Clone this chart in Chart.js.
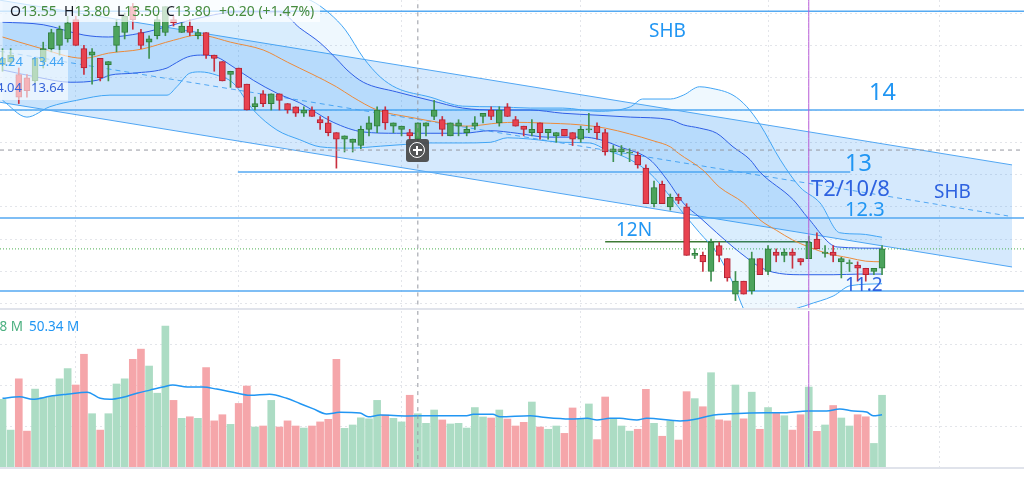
<!DOCTYPE html>
<html>
<head>
<meta charset="utf-8">
<title>SHB</title>
<script src="https://cdn.jsdelivr.net/npm/chart.js@4.4.1/dist/chart.umd.min.js"></script>
<style>
  html, body { margin: 0; padding: 0; background: #fff; width: 1024px; height: 477px; overflow: hidden; font-family: "Noto Sans", sans-serif; }
  #pricePane { position: absolute; left: 0; top: 0; width: 1024px; height: 308px; }
  #volPane { position: absolute; left: 0; top: 311px; width: 1024px; height: 156px; }
  .sep { position: absolute; left: 0; width: 1024px; background: #e0e3eb; }
  .t { position: absolute; white-space: nowrap; line-height: 1; }
  .box { position: absolute; background: rgba(255,255,255,0.7); }
  .k { color: #131722; }
  .v { color: #458b3e; }
  #cross { position: absolute; left: 406px; top: 139px; width: 23px; height: 23px; background: rgba(70,70,70,0.92); border-radius: 3px; }
  #cross .ring { position: absolute; left: 3px; top: 3px; width: 14px; height: 14px; border: 1.5px solid #fff; border-radius: 50%; }
  #cross .ring::before { content: ""; position: absolute; left: 6.25px; top: 2.5px; width: 1.5px; height: 9px; background: #fff; }
  #cross .ring::after { content: ""; position: absolute; left: 2.5px; top: 6.25px; width: 9px; height: 1.5px; background: #fff; }
</style>
</head>
<body>
<canvas id="pricePane" width="1024" height="308"></canvas>
<div class="sep" style="top:308px;height:2px"></div>
<canvas id="volPane" width="1024" height="156"></canvas>
<div class="sep" style="top:467px;height:2px"></div>

<!-- ghi chú vẽ tay trên biểu đồ -->
<div class="t" style="left:649px;top:20.7px;font-size:19px;color:#2196f3">SHB</div>
<div class="t" style="left:869px;top:80px;font-size:23.4px;color:#2196f3">14</div>
<div class="t" style="left:845px;top:151px;font-size:23.4px;color:#2196f3">13</div>
<div class="t" style="left:811px;top:176px;font-size:22px;color:#2e62e0">T2/10/8</div>
<div class="t" style="left:934px;top:181.7px;font-size:19px;color:#2e62e0">SHB</div>
<div class="t" style="left:845px;top:198.5px;font-size:20px;color:#2196f3">12.3</div>
<div class="t" style="left:616px;top:220px;font-size:19px;color:#2196f3">12N</div>
<div class="t" style="left:845px;top:274.7px;font-size:19px;color:#2e62e0">11.2</div>

<!-- legend nến -->
<div class="box" style="left:0;top:0;width:320px;height:22px"></div>
<div class="t" style="left:10px;top:3.6px;font-size:14px"><span class="k">O</span><span class="v">13.55</span></div>
<div class="t" style="left:64px;top:3.6px;font-size:14px"><span class="k">H</span><span class="v">13.80</span></div>
<div class="t" style="left:117px;top:3.6px;font-size:14px"><span class="k">L</span><span class="v">13.50</span></div>
<div class="t" style="left:166px;top:3.6px;font-size:14px"><span class="k">C</span><span class="v">13.80</span></div>
<div class="t" style="left:219px;top:3.6px;font-size:14px"><span class="v">+0.20 (+1.47%)</span></div>

<!-- legend chỉ báo -->
<div class="box" style="left:0;top:50px;width:68px;height:50px;background:rgba(255,255,255,0.6)"></div>
<div class="t" style="right:1001px;top:55.2px;font-size:13px;color:#42a5f5">14.24</div>
<div class="t" style="left:31px;top:55.2px;font-size:13px;color:#42a5f5">13.44</div>
<div class="t" style="right:1002px;top:81px;font-size:13px;color:#3461d8">14.04</div>
<div class="t" style="left:31px;top:81px;font-size:13px;color:#3461d8">13.64</div>

<!-- legend khối lượng -->
<div class="t" style="right:1001px;top:319.7px;font-size:13.5px;color:#4cb080">51.98 M</div>
<div class="t" style="left:29px;top:319.7px;font-size:13.5px;color:#2196f3">50.34 M</div>

<div id="cross"><div class="ring"></div></div>

<script>
// GIÁ (nghìn đồng), mỗi phiên một phần tử
let open = [
  14.70, 14.75, 14.55, 14.50, 14.45, 14.75, 14.95, 15.00, 15.10, 15.40,
  14.95, 14.85, 14.80, 14.70, 15.00, 15.20, 15.60, 15.20, 15.05, 15.15,
  15.20, 15.40, 15.20, 15.30, 15.15, 15.20, 14.85, 14.75, 14.55, 14.65,
  14.40, 14.05, 14.25, 14.10, 14.25, 14.10, 14.05, 13.95, 14.00, 13.85,
  13.80, 13.65, 13.55, 13.50, 13.45, 13.70, 13.75, 14.00, 13.75, 13.70,
  13.65, 13.55, 13.75, 13.90, 13.85, 13.60, 13.75, 13.65, 13.75, 13.90,
  14.00, 13.80, 14.05, 13.85, 13.75, 13.65, 13.80, 13.65, 13.60, 13.70,
  13.65, 13.55, 13.69, 13.75, 13.65, 13.35, 13.35, 13.33, 13.30, 13.10,
  12.55, 12.85, 12.50, 12.65, 12.50, 11.75, 11.75, 11.50, 11.90, 11.70,
  11.15, 11.35, 11.20, 11.70, 11.50, 11.80, 11.75, 11.80, 11.70, 11.70,
  12.00, 11.78, 11.80, 11.65, 11.62, 11.60, 11.55, 11.50, 11.55
];
let high = [
  14.95, 14.95, 14.65, 14.55, 14.80, 15.05, 15.25, 15.30, 15.45, 15.45,
  15.00, 14.95, 14.80, 14.75, 15.40, 15.50, 15.65, 15.25, 15.15, 15.45,
  15.60, 15.45, 15.35, 15.40, 15.25, 15.20, 14.85, 14.75, 14.60, 14.65,
  14.40, 14.20, 14.30, 14.25, 14.25, 14.10, 14.05, 14.05, 14.05, 13.90,
  13.90, 13.65, 13.60, 13.55, 13.75, 13.90, 14.05, 14.05, 13.80, 13.75,
  13.70, 13.80, 13.80, 14.15, 13.90, 13.80, 13.85, 13.75, 13.90, 13.95,
  14.05, 14.05, 14.10, 13.90, 13.75, 13.85, 13.80, 13.70, 13.65, 13.70,
  13.65, 13.75, 13.95, 13.80, 13.70, 13.45, 13.45, 13.40, 13.35, 13.15,
  12.90, 12.90, 12.70, 12.70, 12.55, 11.85, 11.80, 12.00, 11.95, 11.70,
  11.50, 11.35, 11.80, 11.70, 11.90, 11.85, 11.85, 11.85, 11.70, 12.05,
  12.10, 11.90, 11.90, 11.72, 11.68, 11.65, 11.55, 11.55, 11.90
];
let low = [
  14.60, 14.70, 14.10, 14.20, 14.40, 14.65, 14.90, 14.85, 15.05, 15.00,
  14.55, 14.40, 14.45, 14.45, 14.90, 15.10, 15.25, 14.95, 14.80, 15.10,
  15.15, 15.30, 15.20, 15.15, 15.10, 14.80, 14.60, 14.45, 14.35, 14.35,
  14.00, 14.00, 14.05, 14.00, 14.00, 13.95, 13.90, 13.90, 13.90, 13.70,
  13.60, 13.10, 13.35, 13.35, 13.40, 13.60, 13.65, 13.70, 13.65, 13.60,
  13.55, 13.50, 13.60, 13.85, 13.60, 13.60, 13.60, 13.60, 13.70, 13.80,
  13.85, 13.75, 13.90, 13.75, 13.60, 13.60, 13.55, 13.55, 13.50, 13.60,
  13.45, 13.50, 13.65, 13.55, 13.30, 13.20, 13.30, 13.20, 13.10, 12.55,
  12.50, 12.55, 12.45, 12.55, 11.75, 11.70, 11.50, 11.35, 11.65, 11.35,
  11.05, 11.15, 11.15, 11.45, 11.45, 11.65, 11.65, 11.55, 11.60, 11.70,
  11.85, 11.72, 11.65, 11.40, 11.50, 11.35, 11.35, 11.45, 11.45
];
let close = [
  14.80, 14.85, 14.20, 14.30, 14.80, 14.95, 15.20, 15.25, 15.35, 15.00,
  14.65, 14.90, 14.50, 14.75, 15.30, 15.45, 15.40, 15.00, 15.10, 15.40,
  15.60, 15.35, 15.30, 15.20, 15.20, 14.85, 14.80, 14.45, 14.60, 14.35,
  14.00, 14.10, 14.10, 14.25, 14.15, 14.00, 13.95, 14.00, 13.90, 13.80,
  13.65, 13.55, 13.60, 13.55, 13.70, 13.80, 14.00, 13.80, 13.80, 13.75,
  13.60, 13.80, 13.80, 14.00, 13.70, 13.80, 13.80, 13.70, 13.80, 13.95,
  13.90, 14.00, 13.90, 13.75, 13.70, 13.70, 13.65, 13.70, 13.65, 13.60,
  13.55, 13.70, 13.71, 13.65, 13.35, 13.40, 13.40, 13.35, 13.15, 12.55,
  12.80, 12.55, 12.65, 12.60, 11.75, 11.78, 11.65, 11.95, 11.75, 11.40,
  11.35, 11.15, 11.70, 11.45, 11.85, 11.75, 11.80, 11.75, 11.65, 11.95,
  11.85, 11.80, 11.75, 11.70, 11.64, 11.55, 11.45, 11.55, 11.85
];

// KHỐI LƯỢNG (triệu cổ phiếu)
let volume = [
  66, 36, 86, 35, 76, 68, 69, 86, 96, 80,
  110, 52, 36, 52, 81, 86, 105, 115, 98.5, 72,
  137.6, 65, 47.5, 49, 47.5, 97, 45, 51, 41.6, 62,
  79, 39, 40, 65, 39, 45, 40, 38, 40, 44,
  46.5, 105, 37.7, 41, 48, 47, 65, 50.7, 47.5, 44,
  70, 52, 42.6, 55.6, 45.9, 42, 42.6, 38, 58, 48.8,
  47.8, 55.6, 46.8, 40, 43.6, 63.4, 39, 36.8, 40, 32.8,
  57.6, 46.5, 61.5, 26.7, 68.3, 47.5, 40, 35, 36.8, 75.8,
  42.6, 30, 44.9, 26.3, 73.5, 66.7, 58.8, 92, 46, 45,
  80, 47, 73, 36.8, 58, 53, 50, 36, 51, 78,
  34.8, 41, 60, 47.8, 40, 51, 49, 23, 70
];

// ĐƯỜNG CHỈ BÁO: [phiên, giá]
let maGiua = [
  [0, 15.13], [4, 14.98], [10, 14.80], [13, 14.88], [17, 14.94], [21, 15.08], [24, 15.16],
  [25, 15.15], [28, 15.05], [32, 14.93], [35, 14.74], [41, 14.36], [43, 14.20], [46, 14.00],
  [50, 13.89], [54, 13.80], [57, 13.75], [61, 13.80], [63, 13.81], [66, 13.80], [71, 13.77],
  [74, 13.72], [77, 13.63], [80, 13.52], [82, 13.43], [83, 13.33], [86, 13.07], [88, 12.81],
  [91, 12.56], [93, 12.30], [95, 12.14], [97, 11.99], [99, 11.88], [101, 11.79], [104, 11.71],
  [106, 11.66], [108, 11.65]
];
let bandTrenTrong = [
  [0, 15.36], [5, 15.32], [10, 15.16], [13, 15.13], [17, 15.19], [21, 15.32], [24, 15.42],
  [29, 15.52], [34, 15.52], [36.5, 15.27], [39, 15.04], [41.4, 14.74], [42.3, 14.62],
  [44.3, 14.43], [48.4, 14.28], [52.5, 14.15], [56.5, 14.03], [60.7, 14.00], [64.8, 14.00],
  [68.8, 13.95], [73, 13.92], [77.1, 13.89], [82, 13.85], [83.6, 13.77], [85.6, 13.72],
  [87.7, 13.64], [89.7, 13.43], [91.8, 13.23], [93, 13.04], [97.1, 12.61], [98.9, 12.33],
  [102.5, 11.88], [108, 11.86]
];
let bandDuoiTrong = [
  [0, 14.62], [4.6, 14.50], [8.3, 14.43], [11.6, 14.46], [13.2, 14.54], [16, 14.57],
  [20.2, 14.65], [20.9, 14.70], [22.7, 14.82], [24.3, 14.85], [26.3, 14.82], [28.3, 14.67],
  [30.8, 14.46], [33.7, 14.26], [36.5, 14.11], [40.6, 13.81], [44.3, 13.66], [48.4, 13.64],
  [52.5, 13.64], [56.5, 13.64], [59.9, 13.68], [63.2, 13.64], [66.9, 13.58], [71.3, 13.58],
  [73.4, 13.54], [75.8, 13.43], [79.5, 13.23], [81.6, 12.92], [83.6, 12.56], [85.6, 12.34],
  [87.7, 12.10], [89.7, 11.88], [91.4, 11.71], [93, 11.57], [94.6, 11.49], [97.9, 11.45],
  [102, 11.45], [105.3, 11.46], [108, 11.46]
];
let bandTrenNgoai = [
  [0, 16.17], [18, 16.32], [35.3, 15.78], [37.8, 15.70], [40.2, 15.49], [42.1, 15.24],
  [44.3, 14.81], [46.4, 14.51], [48.4, 14.34], [52.5, 14.20], [56.5, 14.06], [60.7, 14.05],
  [64.8, 14.03], [68.8, 14.03], [73, 13.98], [77.1, 14.05], [78.6, 14.17], [82, 14.17],
  [83.6, 14.23], [85.6, 14.36], [86.9, 14.34], [89.7, 14.23], [91.4, 14.05], [93, 13.78],
  [95.5, 13.23], [97.9, 12.81], [100.4, 12.56], [102.8, 12.10], [105.3, 12.08], [108, 12.03]
];
let bandDuoiNgoai = [
  [0, 14.15], [3, 13.89], [5.8, 14.05], [9.1, 14.15], [13.2, 14.23], [20.2, 14.23],
  [21.4, 14.36], [23, 14.57], [24.3, 14.59], [26.3, 14.54], [28.3, 14.42], [30.8, 14.00],
  [33.7, 13.69], [36.5, 13.54], [39, 13.43], [42.7, 13.41], [46.4, 13.44], [49.7, 13.47],
  [52.5, 13.49], [56.5, 13.49], [59.9, 13.50], [62, 13.57], [64.8, 13.55], [68.8, 13.50],
  [72.1, 13.49], [74.2, 13.38], [77.1, 13.23], [79.5, 13.02], [81.6, 12.72], [83.6, 12.40],
  [85.6, 12.10], [87.7, 11.79], [89.7, 11.32], [91.2, 10.87], [93, 10.59], [94.9, 10.59],
  [96.7, 10.87], [98.8, 10.98], [102, 11.12], [104.1, 11.28], [108, 11.31]
];
let maKhoiLuong = [
  [0, 67], [2.1, 68.6], [3.7, 66], [5.8, 69], [7.9, 71], [10.4, 73], [12, 67], [13.2, 66],
  [14.8, 68], [16.5, 72], [18.1, 75], [19.7, 78], [20.9, 80], [22.7, 78], [24.6, 78],
  [26.3, 76], [28.3, 73], [30.4, 70], [32.8, 71], [34.9, 67], [36.5, 62], [38.1, 57],
  [39.8, 51.7], [41.4, 53.3], [43.9, 52.6], [44.9, 49], [46.4, 50.7], [49.7, 49.8],
  [52.5, 50], [57, 50], [57.8, 51.4], [60.2, 51.4], [61.1, 49], [64.8, 50], [66.4, 48.5],
  [69.7, 46.8], [71.8, 47.5], [73, 45.9], [74.6, 47.5], [75.8, 47.5], [77.9, 45.9],
  [79.1, 47.5], [83.2, 45], [85.6, 47.5], [86.9, 50], [89.7, 52], [93.8, 53], [96.3, 53],
  [98.8, 54.6], [101.2, 54.6], [102.8, 56.6], [104.5, 54.6], [106.1, 53.6], [106.9, 50],
  [108, 51]
];

// KÊNH GIÁ VÀ CÁC MỨC VẼ TAY
let kenhTren = [[-0.31, 15.70], [123.96, 13.15]];
let kenhDuoi = [[-0.31, 14.12], [123.96, 11.57]];
let kenhGiua = [[-0.31, 14.91], [123.47, 12.36]];
let mucNgang = [15.53, 14.00, 12.33, 11.20];
let muc13 = [[28.9, 13.04], [104.1, 13.04]];
let muc12N = [[74, 11.96], [99.2, 11.96]];
let phienThang = [9, 29, 49, 71, 94, 115];
let giaLuoi = [11, 11.5, 12, 12.5, 13, 13.5, 14, 14.5, 15, 15.5];
let klLuoi = [40, 80, 120];
let phienChuot = 51;
let giaChuot = 13.38;
let phienTim = 99;

let xMin = -0.307, xMax = 125.43;
let giaMin = 10.935, giaMax = 15.703;
let klMax = 152.2;

function diem(list) {
  return list.map(p => ({ x: p[0], y: p[1] }));
}

function duong(data, mau, them) {
  return Object.assign({
    type: "line",
    data: data,
    borderColor: mau,
    borderWidth: 1,
    pointRadius: 0,
    fill: false,
    cubicInterpolationMode: "monotone"
  }, them || {});
}

function truc(ticks) {
  return {
    type: "linear",
    offset: false,
    ticks: { display: false },
    grid: { color: "#e3e5ea", drawTicks: false, offset: false },
    border: { display: false, dash: [2, 3] },
    afterBuildTicks: s => { s.ticks = ticks.map(v => ({ value: v })); }
  };
}

let xanh = "#4ca35c", xanhVien = "#2e7d3b";
let do_ = "#e8424f", doVien = "#b22234";
let tang = close.map((c, i) => c >= open[i]);

// BIỂU ĐỒ GIÁ
let doc = [{ x: phienTim, y: 10 }, { x: phienTim, y: 16 }];
let docChuot = [{ x: phienChuot, y: 10 }, { x: phienChuot, y: 16 }];

let datasets = [
  duong(doc, "#b65ad6", { order: -2 }),
  duong(docChuot, "#9598a1", { order: -1, borderDash: [4, 4] }),
  duong([{ x: xMin, y: giaChuot }, { x: xMax, y: giaChuot }], "#9598a1", { order: -1, borderDash: [4, 4] }),
  {
    type: "bar",
    order: 0,
    data: close.map((c, i) => ({ x: i, y: [open[i], c] })),
    backgroundColor: tang.map(u => u ? xanh : do_),
    borderColor: tang.map(u => u ? xanhVien : doVien),
    borderWidth: 1,
    borderSkipped: false,
    barThickness: 6,
    grouped: false
  },
  {
    type: "bar",
    order: 1,
    data: close.map((c, i) => ({ x: i, y: [low[i], high[i]] })),
    backgroundColor: tang.map(u => u ? "#3f9150" : "#c9303f"),
    borderWidth: 0,
    barThickness: 1,
    grouped: false
  },
  duong(diem(maGiua), "#ec8a3a", { order: 2 }),
  duong(diem(bandTrenTrong), "#2f5ee6", { order: 3, fill: "+1", backgroundColor: "rgba(33,150,243,0.10)" }),
  duong(diem(bandDuoiTrong), "#2f5ee6", { order: 3 }),
  duong(diem(bandTrenNgoai), "#42a5f5", { order: 4, fill: "+1", backgroundColor: "rgba(33,150,243,0.07)" }),
  duong(diem(bandDuoiNgoai), "#42a5f5", { order: 4 }),
  duong(diem(kenhGiua), "#52a7f3", { order: 5, borderDash: [5, 4] }),
  duong(diem(kenhTren), "#52a7f3", { order: 6, fill: "+1", backgroundColor: "rgba(66,153,245,0.22)" }),
  duong(diem(kenhDuoi), "#52a7f3", { order: 6 })
];

mucNgang.forEach(v => {
  datasets.push(duong([{ x: xMin, y: v }, { x: xMax, y: v }], "#55a9f2", { order: 5, borderWidth: 1.5 }));
});
datasets.push(duong(diem(muc13), "#55a9f2", { order: 5, borderWidth: 1.5 }));
datasets.push(duong(diem(muc12N), "#3d7a34", { order: 5, borderWidth: 1.5 }));
datasets.push(duong([{ x: xMin, y: close[close.length - 1] }, { x: xMax, y: close[close.length - 1] }],
  "#4caf50", { order: 5, borderDash: [1, 2] }));

let scaleX = truc(phienThang);
scaleX.min = xMin;
scaleX.max = xMax;
scaleX.afterFit = s => { s.height = 0; };
let scaleY = truc(giaLuoi);
scaleY.min = giaMin;
scaleY.max = giaMax;
scaleY.beginAtZero = false;
scaleY.afterFit = s => { s.width = 0; };

new Chart(document.getElementById("pricePane"), {
  type: "bar",
  data: { datasets: datasets },
  options: {
    responsive: false,
    animation: false,
    layout: { padding: 0 },
    plugins: { legend: { display: false }, tooltip: { enabled: false } },
    scales: { x: scaleX, y: scaleY }
  }
});

// BIỂU ĐỒ KHỐI LƯỢNG
let vx = truc(phienThang);
vx.min = xMin;
vx.max = xMax;
vx.afterFit = s => { s.height = 0; };
let vy = truc(klLuoi);
vy.min = 0;
vy.max = klMax;
vy.afterFit = s => { s.width = 0; };

new Chart(document.getElementById("volPane"), {
  type: "bar",
  data: {
    datasets: [
      duong([{ x: phienTim, y: 0 }, { x: phienTim, y: 200 }], "#b65ad6", { order: -2 }),
      duong([{ x: phienChuot, y: 0 }, { x: phienChuot, y: 200 }], "#9598a1", { order: -1, borderDash: [4, 4] }),
      duong(diem(maKhoiLuong), "#2196f3", { order: 0, borderWidth: 1.5 }),
      {
        type: "bar",
        order: 1,
        data: volume.map((v, i) => ({ x: i, y: v })),
        backgroundColor: tang.map(u => u ? "#acdcc4" : "#f5a6aa"),
        barThickness: 7,
        grouped: false
      }
    ]
  },
  options: {
    responsive: false,
    animation: false,
    layout: { padding: 0 },
    plugins: { legend: { display: false }, tooltip: { enabled: false } },
    scales: { x: vx, y: vy }
  }
});
</script>
</body>
</html>
